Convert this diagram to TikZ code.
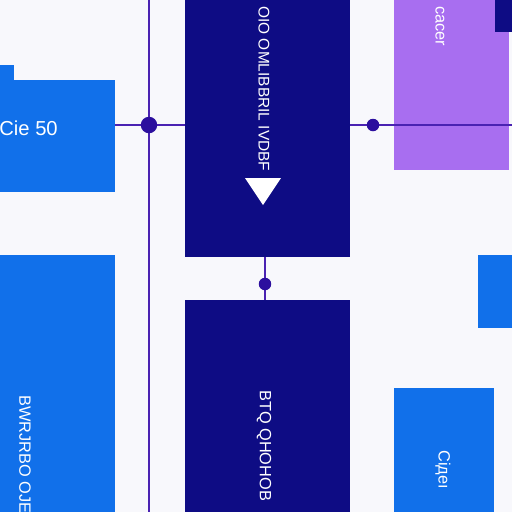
\documentclass[tikz,border=0pt]{standalone}
\usepackage{fontspec}
\setmainfont{Liberation Sans}
\usetikzlibrary{positioning, calc}
\definecolor{brightblue}{HTML}{1170EA}
\definecolor{deepnavy}{HTML}{0E0C84}
\definecolor{lilac}{HTML}{A86EF0}
\definecolor{wireviolet}{HTML}{4A22B2}
\definecolor{dotnavy}{HTML}{2C0F9E}
\definecolor{paper}{HTML}{F8F8FC}

\begin{document}
\begin{tikzpicture}[
  x=0.02cm, y=-0.02cm,
  block/.style={rectangle, inner sep=0pt, outer sep=0pt, anchor=north west},
  bluebox/.style={block, fill=brightblue},
  navybox/.style={block, fill=deepnavy},
  lilacbox/.style={block, fill=lilac},
  vlabel/.style={text=white, rotate=-90, anchor=west, inner sep=0pt, font=\fontsize{9.3}{10}\selectfont},
  wire/.style={draw=wireviolet, line width=1.3pt},
  joint/.style={circle, fill=dotnavy, inner sep=0pt}
]
  \useasboundingbox (0,0) rectangle (512,512);
  \clip (0,0) rectangle (512,512);
  \fill[paper] (0,0) rectangle (512,512);

  % boxes
  \node[bluebox, minimum width=2.4cm, minimum height=2.24cm] (cie) at (-5,80) {};
  \fill[brightblue] (-5,65) rectangle (14,81);
  \node[bluebox, minimum width=2.4cm, minimum height=5.24cm] (lowleft) at (-5,255) {};
  \node[navybox, minimum width=3.3cm, minimum height=5.24cm] (upper) at (185,-5) {};
  \node[navybox, minimum width=3.3cm, minimum height=4.34cm] (lower) at (185,300) {};
  \node[lilacbox, minimum width=2.3cm, minimum height=3.5cm] (lilac) at (394,-5) {};
  \node[navybox, minimum width=0.44cm, minimum height=0.74cm] (corner) at (495,-5) {};
  \node[bluebox, minimum width=0.78cm, minimum height=1.46cm] (side) at (478,255) {};
  \node[bluebox, minimum width=2.0cm, minimum height=2.58cm] (lowright) at (394,388) {};

  % labels
  \node[anchor=west, inner sep=0pt, text=white, font=\fontsize{11.5}{12}\selectfont] (ciet) at (-1,128) {Cie 50};
  \node[vlabel, font=\fontsize{8.8}{10}\selectfont] (uppert) at (264,6) {OIO OMLIBBRIL IVDBF};
  \node[vlabel] (lowert) at (264,390) {BTQ QHOHOB};
  \node[vlabel] (lowleftt) at (25,395) {BWRJRBO OJE};
  \node[vlabel] (lowrightt) at (443,450) {Ciдeı};
  \node[vlabel] (lilact) at (440,6) {cacer};
  \fill[white] (245,178) -- (281,178) -- (263,205) -- cycle;

  % connectors
  \coordinate (railtop) at (149,-5);
  \coordinate (railbot) at (149,517);
  \coordinate (hubL) at (149,125);
  \coordinate (hubR) at (373,125);
  \coordinate (edgeR) at (517,125);
  \coordinate (hubM) at (265,284);
  \draw[wire] (railtop) -- (railbot);
  \draw[wire] (cie.east |- hubL) -- (hubL) -- (upper.west |- hubL);
  \draw[wire] (upper.east |- hubR) -- (hubR) -- (edgeR);
  \draw[wire] (upper.south -| hubM) -- (hubM) -- (lower.north -| hubM);
  \node[joint, minimum size=0.33cm] at (hubL) {};
  \node[joint, minimum size=0.25cm] at (hubR) {};
  \node[joint, minimum size=0.25cm] at (hubM) {};
\end{tikzpicture}
\end{document}
